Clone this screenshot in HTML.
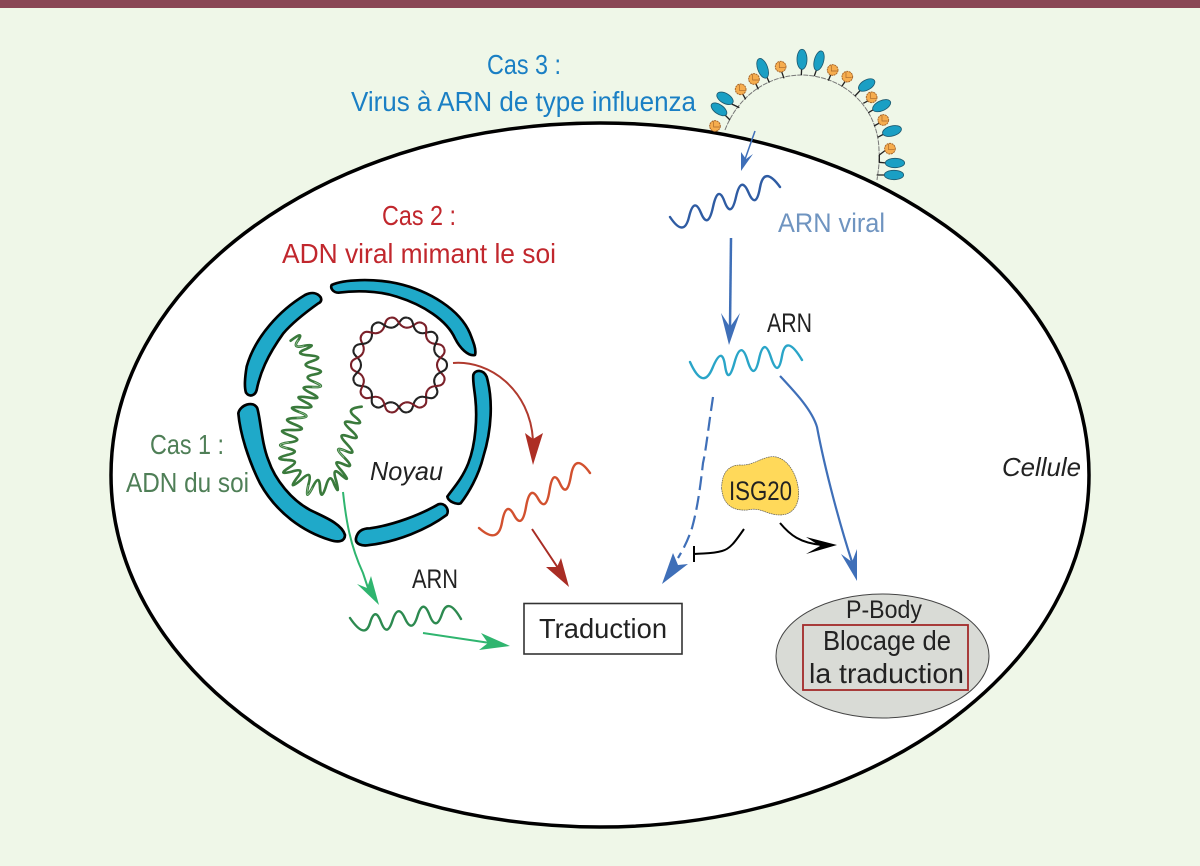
<!DOCTYPE html>
<html><head><meta charset="utf-8"><style>
html,body{margin:0;padding:0;background:#eff7e8}
svg{display:block}
text{font-family:"Liberation Sans",sans-serif}
</style></head><body>
<svg width="1200" height="866" viewBox="0 0 1200 866" xmlns="http://www.w3.org/2000/svg">
<defs>
<g id="hA" fill="none" stroke-width="2.1"><path d="M38 0C38 8 47.8 8.9 45.1 16.4" stroke="#7a1f28"/><path d="M48 0C48 8 38.4 5.5 35.7 13" stroke="#222"/></g>
<g id="hB" fill="none" stroke-width="2.1"><path d="M38 0C38 8 47.8 8.9 45.1 16.4" stroke="#222"/><path d="M48 0C48 8 38.4 5.5 35.7 13" stroke="#7a1f28"/></g>
<g id="ball"><circle r="16" fill="#f6ad4e" stroke="#a8672a" stroke-width="3" stroke-dasharray="6 2"/><path d="M-4 -14V3H13" fill="none" stroke="#a8672a" stroke-width="2"/></g>
</defs>
<rect width="1200" height="866" fill="#eff7e8"/>
<rect width="1200" height="8" fill="#8a4755"/>
<ellipse cx="600" cy="475" rx="489" ry="352" fill="#fff" stroke="#000" stroke-width="3.5"/>

<!-- virus -->
<path d="M725 130C738 96 768 75 802 75C845 76 878 108 879 150C880 162 878 172 877 180" fill="none" stroke="#777" stroke-width="1" stroke-dasharray="5 1"/>
<g transform="translate(680 40) scale(.3333)">
<g stroke="#222" stroke-width="4" fill="none">
<path d="M178 203L155 192M150 240L135 225M268 128L258 105M364 105L365 85M403 108L410 88M525 168L540 152M565 218L582 208M593 292L612 282M597 367L620 369M590 405L615 405M197 178L187 160M235 148L227 130M312 115L305 95M445 122L452 105M485 140L495 125M550 190L565 182M582 258L600 248M598 345L615 332M598 345V367"/>
</g>
<g fill="#1a9fc4" stroke="#1d5a70" stroke-width="2.5">
<ellipse cx="135" cy="175" rx="27" ry="15" transform="rotate(30 135 175)"/>
<ellipse cx="117" cy="208" rx="27" ry="14" transform="rotate(35 117 208)"/>
<ellipse cx="248" cy="85" rx="31" ry="15" transform="rotate(70 248 85)"/>
<ellipse cx="366" cy="58" rx="15" ry="30"/>
<ellipse cx="417" cy="62" rx="14" ry="30" transform="rotate(15 417 62)"/>
<ellipse cx="560" cy="135" rx="27" ry="15" transform="rotate(-30 560 135)"/>
<ellipse cx="605" cy="197" rx="29" ry="15" transform="rotate(-25 605 197)"/>
<ellipse cx="636" cy="273" rx="29" ry="15" transform="rotate(-15 636 273)"/>
<ellipse cx="645" cy="369" rx="29" ry="14"/>
<ellipse cx="642" cy="405" rx="29" ry="14"/>
</g>
<use href="#ball" x="105" y="258"/><use href="#ball" x="182" y="148"/><use href="#ball" x="222" y="117"/><use href="#ball" x="302" y="80"/><use href="#ball" x="458" y="90"/><use href="#ball" x="502" y="110"/><use href="#ball" x="575" y="172"/><use href="#ball" x="610" y="240"/><use href="#ball" x="630" y="326"/>
</g>

<!-- nucleus -->
<g transform="translate(230 270) scale(.3333)" fill="#1fa9c9" stroke="#000" stroke-width="8" stroke-linejoin="round">
<path d="M305 45C340 28 430 25 500 40C600 62 690 120 720 190C730 215 740 240 735 255C715 260 690 235 675 205C650 150 580 105 500 80C440 60 370 62 325 68C310 68 300 55 305 45Z"/>
<path d="M272 82C262 68 245 65 225 75C150 120 75 200 50 290C45 320 42 350 48 368C58 382 75 378 80 360C90 310 110 260 160 190C190 155 230 125 265 100C275 95 275 88 272 82Z"/>
<path d="M25 430C30 405 70 390 82 415C92 450 95 520 115 570C135 630 185 690 240 720C280 740 335 760 345 795C345 815 325 818 300 810C220 785 140 730 90 640C55 570 30 490 25 430Z"/>
<path d="M378 805C382 785 395 775 420 775C490 765 570 735 625 703C645 697 660 720 650 735C590 780 500 815 420 825C395 830 375 822 378 805Z"/>
<path d="M730 315C735 298 760 298 770 320C790 390 785 480 760 560C745 620 715 670 692 700C680 705 655 695 652 680C665 660 695 630 715 580C738 520 742 440 736 385C733 355 728 335 730 315Z"/>
<path fill="none" stroke="#3a7a3c" stroke-width="8" stroke-linecap="round" d="M182 212Q223 181 205 210Q184 237 222.5 227.5Q265 220 227.5 237.5Q189 252 237.5 256Q287 260 246 273.5Q206 285 250 295Q294 305 253 313.5Q213 320 253 336Q295 354 246.5 351Q198 347 241.5 368.5Q286 391 234 382.5Q182 374 225 396Q268 417 215 412Q161 408 207.5 426Q254 443 200 444Q146 445 193.5 463Q241 482 186 480Q130 478 179 496Q226 512 176.5 517.5Q127 524 172.5 535Q217 545 171 555Q125 567 171 570Q215 571 177.5 592.5Q139 617 185 605Q229 591 200 625Q172 664 212.5 630Q250 593 235 645Q223 699 247.5 652.5Q269 608 270 652.5Q273 697 287.5 650Q300 604 312.5 642.5Q331 682 318.5 632.5Q304 586 333.5 615Q367 643 335 602.5Q301 565 340 582.5Q379 600 342.5 562.5Q305 525 346 542.5Q386 560 351 522.5Q315 485 357.5 500Q400 514 362.5 480Q325 447 367.5 457.5Q409 467 375 440Q343 415 395 410"/>
<path fill="none" stroke="#a5cfa5" stroke-width="2" d="M205 210Q184 237 222.5 227.5M253 336Q295 354 246.5 351M207.5 426Q254 443 200 444M176.5 517.5Q127 524 172.5 535M235 645Q223 699 247.5 652.5M342.5 562.5Q305 525 346 542.5"/>
</g>

<!-- plasmid -->
<g transform="translate(399 365)">
<use href="#hA" transform="rotate(0)"/><use href="#hB" transform="rotate(20)"/><use href="#hA" transform="rotate(40)"/><use href="#hB" transform="rotate(60)"/><use href="#hA" transform="rotate(80)"/><use href="#hB" transform="rotate(100)"/><use href="#hA" transform="rotate(120)"/><use href="#hB" transform="rotate(140)"/><use href="#hA" transform="rotate(160)"/><use href="#hB" transform="rotate(180)"/><use href="#hA" transform="rotate(200)"/><use href="#hB" transform="rotate(220)"/><use href="#hA" transform="rotate(240)"/><use href="#hB" transform="rotate(260)"/><use href="#hA" transform="rotate(280)"/><use href="#hB" transform="rotate(300)"/><use href="#hA" transform="rotate(320)"/><use href="#hB" transform="rotate(340)"/>
</g>

<!-- RNA waves -->
<g fill="none" stroke-width="2.4" stroke-linecap="round">
<path stroke="#2f5ca3" d="M670 217Q684 238 689 217T701 213T713 207T724.5 201.5T736 197T748.5 192.5T760 187.5T780 187"/>
<path stroke="#2aa5c8" d="M690 362Q703 391 712.5 368T725 365.5T734.5 362.5T747.5 360.5T759 359T771 357.5T782 356T802 360"/>
<path stroke="#d2512f" d="M479 528Q498 545 502 522.5T514 515T526 507T538 498.5T549.5 490.5T560 483.5T571 475.5T590 473"/>
<path stroke="#2d8a50" d="M350 618Q365 640 370 623T381 622T392.5 620.5T405 618.5T417.5 616T429.5 615T442 614T461 619"/>
</g>

<!-- blue arrows -->
<g fill="none" stroke="#3f6fb8">
<path stroke-width="1.5" d="M755 131L743 165"/>
<path stroke-width="2.5" d="M731 238L730 328"/>
<path stroke-width="2.2" d="M780 376C795 392 812 410 817 427C825 470 840 525 852 562"/>
<path stroke-width="2.2" stroke-dasharray="14 6" d="M713 397C708 430 706 450 703 463C700 490 697 510 692 528C688 540 684 548 678 558"/>
</g>
<g fill="#3f6fb8">
<path d="M741 171L741 152L746 159L753 154Z"/>
<path d="M729 345L721 313L730 327L740 313Z"/>
<path d="M857 581L841 554L852 562L857 549Z"/>
<path d="M662 584L673 553L678 565L688 564Z"/>
</g>

<!-- black arrows -->
<path fill="none" stroke="#000" stroke-width="2" d="M744 529C735 542 730 549 722 551C712 554 704 553 694 554M694 546V562"/>
<path fill="none" stroke="#000" stroke-width="2" d="M780 523C790 535 800 543 822 545"/>
<path d="M837 545L806 537L820 546L806 554Z"/>

<!-- red arrows -->
<path fill="none" stroke="#b03a2e" stroke-width="2" d="M453 363C490 360 530 390 533 440"/>
<path fill="#ad2e24" d="M533 465L525 433L533 439L543 433Z"/>
<path fill="none" stroke="#a92d25" stroke-width="2" d="M532 529L558 568"/>
<path fill="#a92d25" d="M569 587L546 567L557 567L561 558Z"/>

<!-- green arrows -->
<path fill="none" stroke="#2fb56f" stroke-width="2" d="M343 492C346 520 350 545 363 573L368 588"/>
<path fill="#2fb56f" d="M379 605L357 584L367 588L371 576Z"/>
<path fill="none" stroke="#2fb56f" stroke-width="2" d="M423 633L490 643"/>
<path fill="#2fb56f" d="M510 646L481 633L488 643L479 650Z"/>

<!-- boxes -->
<rect x="524" y="603.5" width="158" height="50.5" fill="#fff" stroke="#333" stroke-width="1.6"/>
<ellipse cx="882.5" cy="656" rx="106.5" ry="62" fill="#d9dbd6" stroke="#444" stroke-width="1"/>
<rect x="803" y="625" width="165" height="65" fill="none" stroke="#a32a2a" stroke-width="1.8"/>
<g transform="translate(640 330) scale(.3333)"><path fill="#ffd95a" stroke="#555" stroke-width="2" stroke-dasharray="5 2" d="M245 475C245 430 265 405 300 405C340 408 365 380 400 380C445 382 475 440 476 490C476 535 450 555 420 555C385 555 365 535 335 538C300 545 250 540 245 475Z"/></g>

<!-- labels -->
<g font-size="28">
<text x="487" y="74" fill="#1a7fc4" textLength="74" lengthAdjust="spacingAndGlyphs">Cas 3 :</text>
<text x="351" y="111" fill="#1a7fc4" textLength="345" lengthAdjust="spacingAndGlyphs">Virus à ARN de type influenza</text>
<text x="382" y="225" fill="#c1272d" textLength="74" lengthAdjust="spacingAndGlyphs">Cas 2 :</text>
<text x="282" y="263" fill="#c1272d" textLength="274" lengthAdjust="spacingAndGlyphs">ADN viral mimant le soi</text>
<text x="150" y="454" fill="#4f7f57" textLength="74" lengthAdjust="spacingAndGlyphs">Cas 1 :</text>
<text x="126" y="492" fill="#4f7f57" textLength="123" lengthAdjust="spacingAndGlyphs">ADN du soi</text>
<text x="370" y="480" fill="#222" font-size="26" font-style="italic" textLength="73" lengthAdjust="spacingAndGlyphs">Noyau</text>
<text x="1002" y="476" fill="#222" font-size="26" font-style="italic" textLength="79" lengthAdjust="spacingAndGlyphs">Cellule</text>
<text x="778" y="232" fill="#6f94c0" font-size="27" textLength="107" lengthAdjust="spacingAndGlyphs">ARN viral</text>
<text x="767" y="332" fill="#222" font-size="26.5" textLength="45" lengthAdjust="spacingAndGlyphs">ARN</text>
<text x="412" y="588" fill="#222" font-size="26.5" textLength="46" lengthAdjust="spacingAndGlyphs">ARN</text>
<text x="539" y="638" fill="#222" textLength="128" lengthAdjust="spacingAndGlyphs">Traduction</text>
<text x="729" y="500" fill="#222" font-size="27" textLength="63" lengthAdjust="spacingAndGlyphs">ISG20</text>
<text x="846" y="618" fill="#222" font-size="25" textLength="76" lengthAdjust="spacingAndGlyphs">P-Body</text>
<text x="823" y="650" fill="#222" textLength="128" lengthAdjust="spacingAndGlyphs">Blocage de</text>
<text x="809" y="683" fill="#222" textLength="155" lengthAdjust="spacingAndGlyphs">la traduction</text>
</g>
</svg>
</body></html>
